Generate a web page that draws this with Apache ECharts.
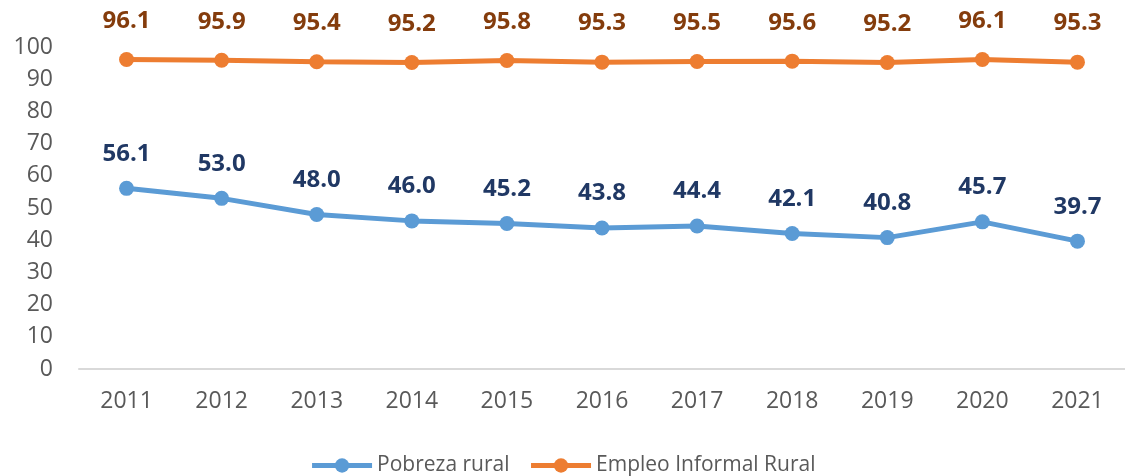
<!DOCTYPE html>
<html>
<head>
<meta charset="utf-8">
<script src="https://cdn.jsdelivr.net/npm/echarts@6/dist/echarts.min.js"></script>
<style>
  html, body { margin: 0; padding: 0; background: #fff; }
  #chart { width: 1125px; height: 476px; }
</style>
</head>
<body>
<div id="chart"></div>
<script>
// datos
let years = ['2011', '2012', '2013', '2014', '2015', '2016', '2017', '2018', '2019', '2020', '2021'];
let pobrezaRural = [56.1, 53.0, 48.0, 46.0, 45.2, 43.8, 44.4, 42.1, 40.8, 45.7, 39.7];
let empleoInformal = [96.1, 95.9, 95.4, 95.2, 95.8, 95.3, 95.5, 95.6, 95.2, 96.1, 95.3];

let font = '"Open Sans", "Liberation Sans", sans-serif';

let myChart = echarts.init(document.getElementById('chart'));
let option = {
    animation: false,
    textStyle: { fontFamily: font },
    grid: { left: 79, top: 47, width: 1050, height: 322 },
    legend: {
        bottom: -5,
        left: 'center',
        itemWidth: 60,
        itemHeight: 18,
        itemGap: 19,
        lineStyle: { width: 5 },
        textStyle: { fontSize: 21, color: '#595959', fontFamily: font },
        data: ['Pobreza rural', 'Empleo Informal Rural']
    },
    xAxis: {
        type: 'category',
        data: years,
        axisLine: { lineStyle: { color: '#D9D9D9', width: 2 } },
        axisTick: { show: false },
        axisLabel: { fontSize: 23, color: '#595959', margin: 21 }
    },
    yAxis: {
        type: 'value',
        min: 0,
        max: 100,
        interval: 10,
        splitLine: { show: false },
        axisLine: { show: false },
        axisLabel: { fontSize: 23, color: '#595959', margin: 26 }
    },
    series: [
        {
            name: 'Pobreza rural',
            type: 'line',
            data: pobrezaRural,
            symbol: 'circle',
            symbolSize: 15,
            color: '#5B9BD5',
            lineStyle: { width: 5 },
            label: {
                show: true,
                position: 'top',
                distance: 15,
                fontSize: 24,
                fontWeight: 'bold',
                color: '#203864',
                formatter: function (p) { return p.value.toFixed(1); }
            }
        },
        {
            name: 'Empleo Informal Rural',
            type: 'line',
            data: empleoInformal,
            symbol: 'circle',
            symbolSize: 15,
            color: '#ED7D31',
            lineStyle: { width: 5 },
            label: {
                show: true,
                position: 'top',
                distance: 19,
                fontSize: 24,
                fontWeight: 'bold',
                color: '#843C0C',
                formatter: function (p) { return p.value.toFixed(1); }
            }
        }
    ]
};
myChart.setOption(option);
</script>
</body>
</html>
